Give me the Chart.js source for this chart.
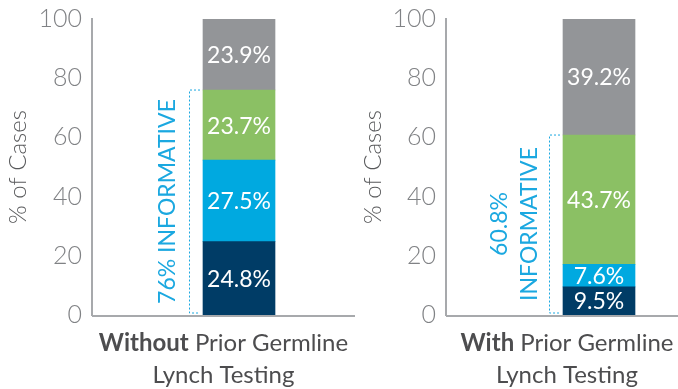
<!DOCTYPE html>
<html>
<head>
<meta charset="utf-8">
<script src="https://cdn.jsdelivr.net/npm/chart.js@4/dist/chart.umd.min.js"></script>
<style>
html,body{margin:0;padding:0;background:#fff;width:678px;height:389px;overflow:hidden;position:relative;}
.panel{position:absolute;top:0;}
</style>
</head>
<body>
<div class="panel" style="left:0px"><canvas id="left" width="386" height="389"></canvas></div>
<div class="panel" style="left:355px"><canvas id="right" width="397" height="389"></canvas></div>
<script>

// DATA
const segmentNames = ["Segment 1", "Segment 2", "Segment 3", "Segment 4"];
const segmentColors = ["#003c66", "#00a9e0", "#8bc064", "#939598"];

const withoutValues = [24.8, 27.5, 23.7, 23.9];
const withValues = [9.5, 7.6, 43.7, 39.2];

const withoutLabel = ["Without", " Prior Germline", "Lynch Testing"];
const withLabel = ["With", " Prior Germline", "Lynch Testing"];

const withoutInformative = ["76% INFORMATIVE"];
const withInformative = ["60.8%", "INFORMATIVE"];

const yTicks = [0, 20, 40, 60, 80, 100];

const blue = "#1ba8e0";
const font = "Lato, 'Open Sans', sans-serif";

// OVERLAY: segment labels, informative bracket, x axis + label
const overlay = {
id: "overlay",
afterDatasetsDraw(chart, args, o) {

const ctx = chart.ctx;
const area = chart.chartArea;
const y = chart.scales.y;

ctx.save();

// segment labels
ctx.fillStyle = "#fff";
ctx.font = "23px " + font;
ctx.textAlign = "center";
ctx.textBaseline = "middle";
chart.data.datasets.forEach((ds, i) => {
const el = chart.getDatasetMeta(i).data[0];
ctx.fillText(ds.data[0].toFixed(1) + "%", el.x, (el.y + el.base) / 2 + 1);
});

// informative bracket
const bar = chart.getDatasetMeta(0).data[0];
const barLeft = bar.x - bar.width / 2;
const informative = o.values.slice(0, 3).reduce((a, b) => a + b, 0);
const topY = y.getPixelForValue(informative);
const botY = y.getPixelForValue(0) - 2;
const bx = barLeft - 13.5;

ctx.strokeStyle = blue;
ctx.lineWidth = 1;
ctx.setLineDash([2, 2]);
ctx.beginPath();
ctx.moveTo(barLeft - 3, topY);
ctx.lineTo(bx, topY);
ctx.lineTo(bx, botY);
ctx.lineTo(barLeft - 3, botY);
ctx.stroke();
ctx.setLineDash([]);

// informative text
const midY = (topY + botY) / 2;
ctx.fillStyle = blue;
ctx.font = "23px " + font;
const lines = o.informative;
lines.forEach((t, i) => {
const off = 35 + (lines.length - 1 - i) * 30 - (lines.length > 1 ? 2 : 0);
ctx.save();
ctx.translate(barLeft - off, midY);
ctx.rotate(-Math.PI / 2);
ctx.fillText(t, 0, 0);
ctx.restore();
});

// x axis line
const x0 = area.left;
const x1 = area.left + o.axisLen;
ctx.strokeStyle = "#a7a9ac";
ctx.lineWidth = 2;
ctx.beginPath();
ctx.moveTo(x0, area.bottom + 1);
ctx.lineTo(x1, area.bottom + 1);
ctx.stroke();

// x label
const cx = (x0 + x1) / 2;
const lbl = o.label;
ctx.fillStyle = "#4d4d4f";
ctx.textAlign = "left";
ctx.font = "bold 24px " + font;
const w1 = ctx.measureText(lbl[0]).width;
ctx.font = "24px " + font;
const w2 = ctx.measureText(lbl[1]).width;
let sx = cx - (w1 + w2) / 2;
ctx.font = "bold 24px " + font;
ctx.fillText(lbl[0], sx, 343);
ctx.font = "24px " + font;
ctx.fillText(lbl[1], sx + w1, 343);
ctx.textAlign = "center";
ctx.fillText(lbl[2], cx, 375);

ctx.restore();

}
};

function makeChart(id, values, label, informative, axisLen, axisWidth) {

return new Chart(document.getElementById(id), {
type: "bar",
data: {
labels: [label.join("")],
datasets: segmentNames.map((n, i) => ({
label: n,
data: [values[i]],
backgroundColor: segmentColors[i],
barThickness: 72,
borderWidth: 0
}))
},
options: {
responsive: false,
animation: false,
events: [],
layout: { padding: { top: 19, bottom: 74, left: 0, right: 0 } },
plugins: {
legend: { display: false },
tooltip: { enabled: false },
overlay: { values: values, label: label, informative: informative, axisLen: axisLen }
},
scales: {
x: { stacked: true, display: false },
y: {
stacked: true,
min: 0,
max: 100,
afterBuildTicks: (s) => { s.ticks = yTicks.map(v => ({ value: v })); },
afterFit: (s) => { s.width = axisWidth; s.paddingTop = 14; },
grid: { display: false, drawTicks: false },
border: { display: true, color: "#a7a9ac", width: 2 },
ticks: {
padding: 10,
color: "#808285",
font: { family: font, size: 25, weight: "300" }
},
title: {
display: true,
text: "% of Cases",
color: "#58595b",
padding: { top: 4, bottom: 0 },
font: { family: font, size: 24, weight: "300" }
}
}
}
},
plugins: [overlay]
});

}

makeChart("left", withoutValues, withoutLabel, withoutInformative, 263, 92);
makeChart("right", withValues, withLabel, withInformative, 242, 91);

</script>
</body>
</html>
